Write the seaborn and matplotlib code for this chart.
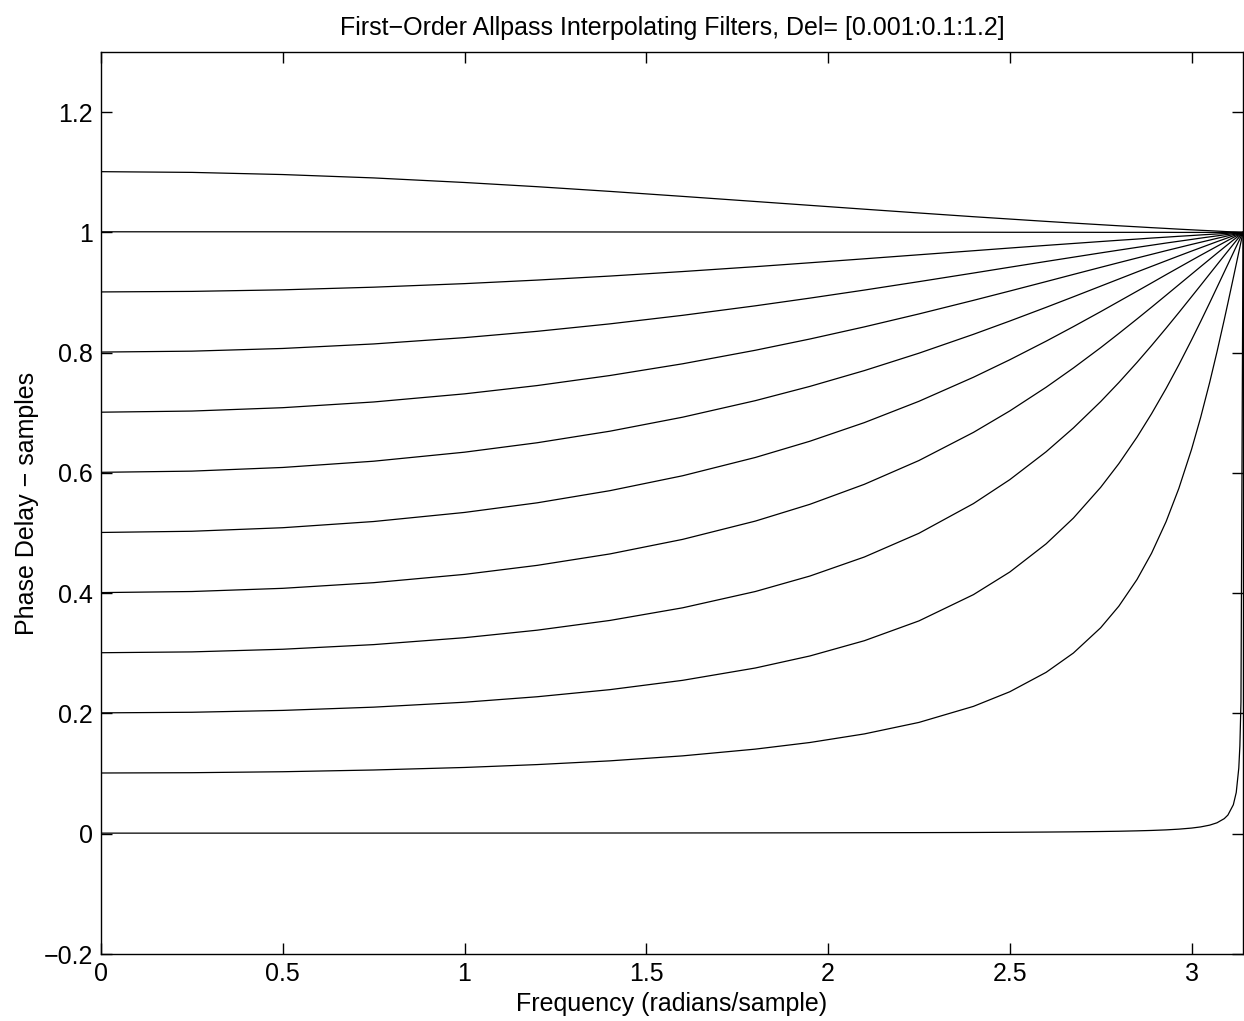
import numpy as np
import pandas as pd
import seaborn as sns
import matplotlib.pyplot as plt

# frequency samples (radians/sample), last one is pi
freq = [0, 0.25, 0.5, 0.75, 1.0, 1.2, 1.4, 1.6, 1.8, 1.95, 2.1, 2.25, 2.4, 2.5, 2.6,
        2.675, 2.75, 2.8, 2.85, 2.89, 2.93, 2.965, 3.0, 3.025, 3.05, 3.07, 3.09, 3.1,
        3.115, 3.123, 3.13, 3.133, 3.136, 3.1416]

delays = ["0.001", "0.101", "0.201", "0.301", "0.401", "0.501",
          "0.601", "0.701", "0.801", "0.901", "1.001", "1.101"]

# phase delay (samples)
pd_0001 = [0.001, 0.0010, 0.0010, 0.00105, 0.0011, 0.00114, 0.0012, 0.00129, 0.0014, 0.00151,
           0.0017, 0.00186, 0.0021, 0.00241, 0.0028, 0.00315, 0.0037, 0.00414, 0.0048, 0.00547,
           0.0064, 0.00762, 0.0094, 0.01133, 0.0143, 0.01819, 0.0251, 0.0310, 0.0482, 0.0686,
           0.1092, 0.1460, 0.2190, 1.0]
pd_0101 = [0.101, 0.1015, 0.1031, 0.1060, 0.1102, 0.1150, 0.1212, 0.1295, 0.1407, 0.1517,
           0.1660, 0.1851, 0.2118, 0.2361, 0.2684, 0.3005, 0.3425, 0.3784, 0.4228, 0.4664,
           0.5190, 0.5741, 0.6391, 0.6921, 0.7507, 0.8013, 0.8548, 0.8824, 0.9245, 0.9472,
           0.9671, 0.9756, 0.9841, 1.0]
pd_0201 = [0.201, 0.2020, 0.2051, 0.2105, 0.2187, 0.2278, 0.2396, 0.2551, 0.2756, 0.2956,
           0.3210, 0.3539, 0.3976, 0.4352, 0.4821, 0.5249, 0.5760, 0.6154, 0.6595, 0.6984,
           0.7404, 0.7797, 0.8211, 0.8517, 0.8830, 0.9085, 0.9341, 0.9469, 0.9661, 0.9764,
           0.9853, 0.9891, 0.9929, 1.0]
pd_0301 = [0.301, 0.3024, 0.3068, 0.3145, 0.3260, 0.3385, 0.3547, 0.3757, 0.4028, 0.4285,
           0.4602, 0.4996, 0.5490, 0.5888, 0.6352, 0.6748, 0.7186, 0.7503, 0.7838, 0.8118,
           0.8407, 0.8666, 0.8930, 0.9119, 0.9310, 0.9462, 0.9614, 0.9689, 0.9802, 0.9862,
           0.9914, 0.9936, 0.9959, 1.0]
pd_0401 = [0.401, 0.4028, 0.4081, 0.4175, 0.4313, 0.4463, 0.4653, 0.4895, 0.5199, 0.5478,
           0.5811, 0.6206, 0.6674, 0.7031, 0.7425, 0.7745, 0.8083, 0.8319, 0.8560, 0.8756,
           0.8955, 0.9130, 0.9305, 0.9430, 0.9554, 0.9653, 0.9751, 0.9800, 0.9873, 0.9911,
           0.9945, 0.9959, 0.9973, 1.0]
pd_0501 = [0.501, 0.5030, 0.5089, 0.5192, 0.5343, 0.5503, 0.5705, 0.5953, 0.6257, 0.6527,
           0.6837, 0.7191, 0.7591, 0.7882, 0.8191, 0.8433, 0.8682, 0.8852, 0.9022, 0.9159,
           0.9297, 0.9416, 0.9535, 0.9619, 0.9702, 0.9768, 0.9834, 0.9867, 0.9915, 0.9941,
           0.9963, 0.9973, 0.9982, 1.0]
pd_0601 = [0.601, 0.6030, 0.6091, 0.6195, 0.6345, 0.6502, 0.6694, 0.6927, 0.7202, 0.7439,
           0.7702, 0.7991, 0.8305, 0.8526, 0.8754, 0.8929, 0.9106, 0.9224, 0.9342, 0.9435,
           0.9528, 0.9609, 0.9689, 0.9745, 0.9801, 0.9846, 0.9889, 0.9911, 0.9943, 0.9961,
           0.9975, 0.9982, 0.9988, 1.0]
pd_0701 = [0.701, 0.7029, 0.7085, 0.7180, 0.7315, 0.7453, 0.7620, 0.7815, 0.8040, 0.8227,
           0.8429, 0.8644, 0.8870, 0.9025, 0.9182, 0.9301, 0.9419, 0.9497, 0.9574, 0.9635,
           0.9696, 0.9748, 0.9800, 0.9836, 0.9872, 0.9901, 0.9929, 0.9943, 0.9964, 0.9975,
           0.9984, 0.9988, 0.9992, 1.0]
pd_0801 = [0.801, 0.8025, 0.8070, 0.8145, 0.8250, 0.8355, 0.8479, 0.8621, 0.8779, 0.8907,
           0.9041, 0.9181, 0.9324, 0.9421, 0.9517, 0.9588, 0.9659, 0.9705, 0.9751, 0.9787,
           0.9823, 0.9853, 0.9883, 0.9905, 0.9926, 0.9942, 0.9959, 0.9967, 0.9979, 0.9985,
           0.9991, 0.9993, 0.9995, 1.0]
pd_0901 = [0.901, 0.9019, 0.9045, 0.9089, 0.9148, 0.9207, 0.9274, 0.9349, 0.9430, 0.9495,
           0.9561, 0.9628, 0.9695, 0.9740, 0.9784, 0.9816, 0.9848, 0.9869, 0.9889, 0.9906,
           0.9921, 0.9935, 0.9948, 0.9958, 0.9967, 0.9974, 0.9982, 0.9985, 0.9991, 0.9994,
           0.9996, 0.9997, 0.9998, 1.0]
pd_1001 = [1.001, 1.0010, 1.0010, 1.0009, 1.0008, 1.0008, 1.0007, 1.0006, 1.0005, 1.0005,
           1.0004, 1.0003, 1.0003, 1.0002, 1.0002, 1.0002, 1.0001, 1.0001, 1.0001, 1.0001,
           1.0001, 1.0, 1.0, 1.0, 1.0, 1.0, 1.0, 1.0, 1.0, 1.0,
           1.0, 1.0, 1.0, 1.0]
pd_1101 = [1.101, 1.0998, 1.0962, 1.0906, 1.0830, 1.0760, 1.0682, 1.0599, 1.0514, 1.0450,
           1.0386, 1.0323, 1.0261, 1.0222, 1.0183, 1.0155, 1.0128, 1.0110, 1.0093, 1.0079,
           1.0066, 1.0054, 1.0043, 1.0035, 1.0028, 1.0022, 1.0015, 1.0012, 1.0008, 1.0006,
           1.0004, 1.0003, 1.0002, 1.0]

curves = [pd_0001, pd_0101, pd_0201, pd_0301, pd_0401, pd_0501,
          pd_0601, pd_0701, pd_0801, pd_0901, pd_1001, pd_1101]

xtick_vals = [0, 0.5, 1, 1.5, 2, 2.5, 3]
xtick_labels = ["0", "0.5", "1", "1.5", "2", "2.5", "3"]
ytick_vals = [-0.2, 0, 0.2, 0.4, 0.6, 0.8, 1.0, 1.2]
ytick_labels = ["\u22120.2", "0", "0.2", "0.4", "0.6", "0.8", "1", "1.2"]

for c in curves:
    assert len(c) == len(freq), len(c)

rows = []
for d, c in zip(delays, curves):
    for f, v in zip(freq, c):
        rows.append((d, f, v))
df = pd.DataFrame(rows, columns=["delay", "freq", "tau"])

sns.set_style("ticks")
plt.rcParams['font.family'] = ['Liberation Sans', 'DejaVu Sans']
plt.rcParams['axes.linewidth'] = 1.0
plt.rcParams['text.color'] = 'black'
plt.rcParams['axes.labelcolor'] = 'black'

fig = plt.figure(figsize=(12.44, 10.21), dpi=100)
ax = fig.add_axes([101 / 1244, 67 / 1021, 1142 / 1244, 902 / 1021])

sns.lineplot(data=df, x="freq", y="tau", hue="delay", hue_order=delays,
             palette=["black"] * len(delays), legend=False, estimator=None,
             sort=False, linewidth=0.9, ax=ax)

ax.set_xlim(0, np.pi)
ax.set_ylim(-0.2, 1.3)
ax.set_xticks(xtick_vals)
ax.set_xticklabels(xtick_labels)
ax.set_yticks(ytick_vals)
ax.set_yticklabels(ytick_labels)
ax.tick_params(direction="in", top=True, right=True, length=8, width=1.0,
               labelsize=18, pad=6, colors="black")
for s in ax.spines.values():
    s.set_color("black")

ax.set_xlabel("Frequency (radians/sample)", fontsize=18, labelpad=4, color="black")
ax.set_ylabel("Phase Delay \u2212 samples", fontsize=18, labelpad=3, color="black")
ax.set_title("First\u2212Order Allpass Interpolating Filters, Del= [0.001:0.1:1.2]",
             fontsize=18, pad=12, color="black")

fig.savefig("out.png", dpi=100)
